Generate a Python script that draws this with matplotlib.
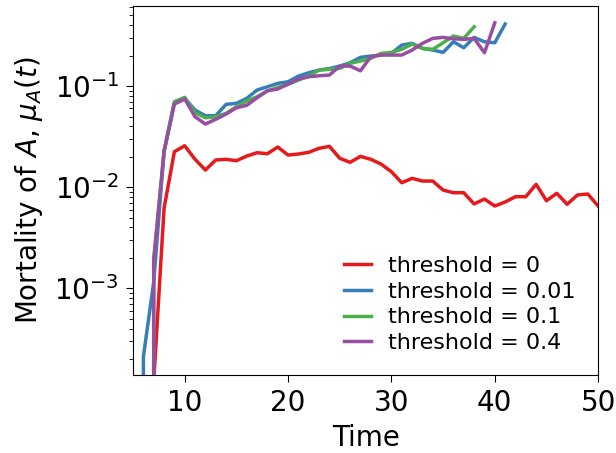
import numpy as np
import matplotlib
matplotlib.use("Agg")
import matplotlib.pyplot as plt

# mortality of A over time, one series per threshold
t_red = list(range(5, 51))
mu_red = [0, 0, 1.2e-4, 0.00619, 0.02244, 0.0257, 0.01887, 0.01479, 0.01858, 0.01887,
          0.01828, 0.02033, 0.02193, 0.02143, 0.02494, 0.02080, 0.02129, 0.02213, 0.02423, 0.02535,
          0.01931, 0.01762, 0.02018, 0.01887, 0.01694, 0.01422, 0.01107, 0.01224, 0.01151, 0.01151,
          0.00937, 0.00882, 0.00882, 0.00683, 0.00764, 0.00652, 0.00714, 0.00806, 0.00806, 0.01069,
          0.00735, 0.00871, 0.00678, 0.00838, 0.00857, 0.00652]

t_blue = list(range(5, 42))
mu_blue = [0, 2.11e-4, 1.156e-3, 0.0228, 0.0695, 0.0756, 0.0579, 0.0509, 0.0509, 0.0659,
           0.0675, 0.0756, 0.0913, 0.0984, 0.1063, 0.1103, 0.1255, 0.1353, 0.1439, 0.1489,
           0.1576, 0.1699, 0.1921, 0.1979, 0.2025, 0.2104, 0.2542, 0.2642, 0.2358, 0.2268,
           0.2153, 0.2740, 0.2390, 0.3028, 0.2740, 0.2679, 0.4099]

t_green = list(range(6, 39))
mu_green = [0, 1.9e-3, 0.0226, 0.070, 0.0773, 0.0545, 0.0486, 0.0497, 0.0537, 0.0624,
            0.0711, 0.0784, 0.0893, 0.0971, 0.1039, 0.1146, 0.1255, 0.1439, 0.1462, 0.1496,
            0.1676, 0.1766, 0.1878, 0.2104, 0.2153, 0.2306, 0.2600, 0.2358, 0.2306, 0.2679,
            0.3120, 0.2960, 0.3855]

t_purple = list(range(6, 41))
mu_purple = [0, 1.91e-3, 0.02244, 0.0664, 0.0744, 0.0497, 0.0421, 0.0469, 0.0529, 0.0610,
             0.0645, 0.0766, 0.0899, 0.0934, 0.1047, 0.1173, 0.1236, 0.1264, 0.1284, 0.1576,
             0.1576, 0.1416, 0.1948, 0.2025, 0.2025, 0.2025, 0.2268, 0.2642, 0.2960, 0.3028,
             0.2930, 0.2893, 0.2960, 0.2133, 0.4219]

labels = ['threshold = 0', 'threshold = 0.01', 'threshold = 0.1', 'threshold = 0.4']
colors = ['#e41a1c', '#377eb8', '#4daf4a', '#984ea3']

fig = plt.figure(figsize=(6.16, 4.53), dpi=100)
ax = fig.add_axes([0.216, 0.172, 0.755, 0.815])

series = [(t_red, mu_red), (t_blue, mu_blue), (t_green, mu_green), (t_purple, mu_purple)]
for (tt, mu), lab, c in zip(series, labels, colors):
    ax.plot(tt, mu, color=c, lw=2.5, label=lab)

ax.set_yscale('log', nonpositive='clip')
ax.set_xlim(5, 50)
ax.set_ylim(1.39e-4, 0.62)
ax.set_xticks([10, 20, 30, 40, 50])
ax.tick_params(labelsize=20)
ax.tick_params(which='major', length=5, pad=5)
ax.tick_params(which='minor', length=3)
ax.set_xlabel('Time', fontsize=20, labelpad=5)
ax.set_ylabel(r'Mortality of $A$, $\mu_A(t)$', fontsize=20, labelpad=7)

ax.legend(loc='lower right', frameon=False, fontsize=16, handlelength=1.2,
          labelspacing=0.25, borderaxespad=0.6)

fig.savefig('out.png', dpi=100)
